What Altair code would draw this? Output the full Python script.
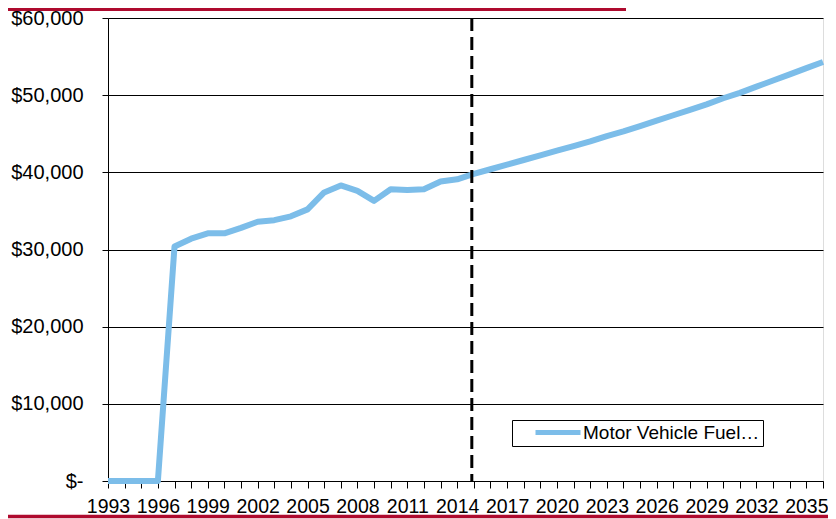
import altair as alt
import pandas as pd

years = list(range(1993, 2037))
revenue = [0, 0, 0, 0, 30400, 31400, 32100, 32100, 32800, 33600, 33800, 34300,
           35200, 37400, 38300, 37600, 36300, 37800, 37700, 37800, 38800, 39100,
           39800, 40400, 41000, 41600, 42200, 42800, 43400, 44000, 44700, 45300,
           46000, 46700, 47400, 48100, 48800, 49600, 50300, 51100, 51900, 52700,
           53500, 54300]
series_name = "Motor Vehicle Fuel\u2026"
divider_year = [2014.88]
y_ticks = [0, 10000, 20000, 30000, 40000, 50000, 60000]

df = pd.DataFrame({"Year": years, "Revenue": revenue, "Series": series_name})
div_df = pd.DataFrame({"Year": divider_year})

FONT = "Liberation Sans"
BLUE = "#7CBDE9"
RED = "#AE0A2E"

x_scale = alt.Scale(domain=[1993, 2036], nice=False, zero=False)
y_scale = alt.Scale(domain=[0, 60000], nice=False)
x_axis = alt.Axis(values=years, title=None, grid=False,
                  labelExpr="(datum.value - 1993) % 3 == 0 ? format(datum.value, 'd') : ''",
                  labelOverlap=False, labelFlush=False,
                  labelFontSize=19.5, labelFont=FONT, labelColor="#000000",
                  tickSize=7, tickColor="#000000", domainColor="#000000",
                  labelPadding=9)

line = alt.Chart(df).mark_line(strokeWidth=6, strokeJoin="round").encode(
    x=alt.X("Year:Q", scale=x_scale, axis=x_axis),
    y=alt.Y("Revenue:Q", scale=y_scale,
            axis=alt.Axis(values=y_ticks, title=None, grid=True, gridColor="#000000",
                          gridWidth=1, domainColor="#000000", tickColor="#000000",
                          tickSize=6, labelPadding=19, labelFontSize=20, labelFont=FONT,
                          labelColor="#000000",
                          labelExpr="datum.value == 0 ? '$-' : '$' + format(datum.value, ',')")),
    color=alt.Color("Series:N",
                    scale=alt.Scale(domain=[series_name], range=[BLUE]),
                    legend=alt.Legend(title=None, orient="none", legendX=404, legendY=402,
                                      strokeColor="#000000", fillColor="#ffffff",
                                      padding=3, symbolOffset=33.5,
                                      symbolType="M-4.5,0H4.5", symbolStrokeWidth=5,
                                      symbolSize=100, labelFontSize=19, labelFont=FONT,
                                      labelColor="#000000", labelLimit=400, labelOffset=15.5)),
)

divider = alt.Chart(div_df).mark_rule(color="#000000", strokeWidth=3,
                                      strokeDash=[13, 6]).encode(
    x=alt.X("Year:Q", scale=x_scale, axis=x_axis))

top_bar = alt.Chart(div_df).mark_rule(color=RED, strokeWidth=4).encode(
    x=alt.value(-108), x2=alt.value(518), y=alt.value(-9))
bottom_bar = alt.Chart(div_df).mark_rule(color=RED, strokeWidth=3.5).encode(
    x=alt.value(-108), x2=alt.value(740), y=alt.value(498.5))

chart = alt.layer(line, divider, top_bar, bottom_bar).properties(
    width=715, height=463,
    autosize=alt.AutoSizeParams(type="none"),
    padding={"left": 100, "top": 10, "right": 5, "bottom": 38},
).configure_view(stroke=None).configure(font=FONT, background="#ffffff")

chart.save("out.html", embed_options={"renderer": "svg", "actions": False})
